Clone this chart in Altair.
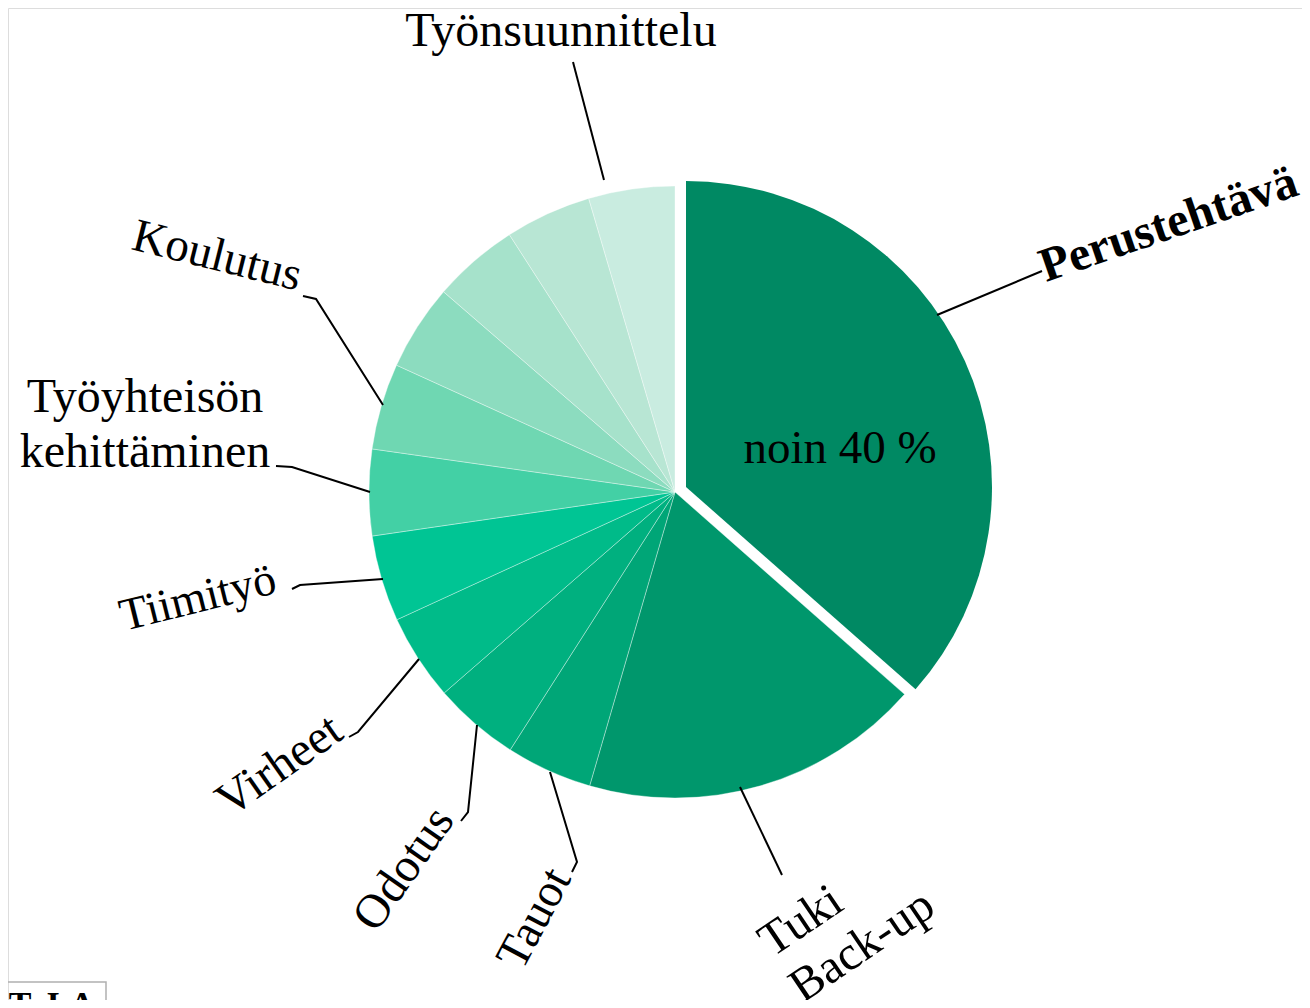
import altair as alt
import pandas as pd

# ---------------- data ----------------
categories = ["Perustehtävä", "Tuki", "Tauot", "Odotus", "Virheet", "Tiimityö",
              "Työyhteisön kehittäminen", "Koulutus", "muu 1", "muu 2", "muu 3",
              "Työnsuunnittelu"]
shares = [36.5, 18.0, 4.55, 4.55, 4.55, 4.55, 4.55, 4.55, 4.55, 4.55, 4.55, 4.55]
colors = ["#008963", "#00976c", "#00a677", "#00b07f", "#00bb89", "#00c594",
          "#43d0a5", "#6fd7b2", "#8cdcbf", "#a6e2cb", "#b8e6d4", "#c9ece0"]
center_note = "noin 40 %"

# ---------------- layout (page pixels of the reference) ----------------
OFF = 8
W, H = 1294, 992


def px(x):
    return x - OFF


CX, CY, R = px(675), px(492), 306
EXPLODE = (11, -5)

df = pd.DataFrame({"cat": categories, "share": shares, "idx": list(range(len(categories)))})

base = alt.Chart(df).encode(
    theta=alt.Theta("share:Q", stack=True),
    order=alt.Order("idx:Q", sort="ascending"),
    color=alt.Color("cat:N", scale=alt.Scale(domain=categories, range=colors), legend=None),
)

pie = base.mark_arc(radius=R, stroke="white", strokeWidth=0.8, strokeOpacity=0.45).encode(
    x=alt.value(CX), y=alt.value(CY),
    opacity=alt.condition(alt.datum.cat == categories[0], alt.value(0), alt.value(1)),
)
exploded = base.mark_arc(radius=R).encode(
    x=alt.value(CX + EXPLODE[0]), y=alt.value(CY + EXPLODE[1]),
    opacity=alt.condition(alt.datum.cat == categories[0], alt.value(1), alt.value(0)),
)

# leader lines (annotation layout)
leaders = {
    "Työnsuunnittelu": [(573, 62), (604, 180)],
    "Perustehtävä": [(937, 315), (1042, 271)],
    "Koulutus": [(303, 296), (316, 299), (383, 405)],
    "Työyhteisön kehittäminen": [(276, 466), (292, 467), (370, 492)],
    "Tiimityö": [(292, 589), (300, 585), (383, 579)],
    "Virheet": [(349, 737), (358, 732), (419, 659)],
    "Odotus": [(461, 821), (468, 812), (477, 725)],
    "Tauot": [(572, 872), (577, 862), (550, 772)],
    "Tuki": [(740, 787), (782, 875)],
}
rows = []
for g, pts in leaders.items():
    for i, (x, y) in enumerate(pts):
        rows.append({"g": g, "i": i, "x": px(x), "y": px(y)})
lines = alt.Chart(pd.DataFrame(rows)).mark_line(color="black", strokeWidth=2).encode(
    x=alt.X("x:Q", scale=None, axis=None),
    y=alt.Y("y:Q", scale=None, axis=None),
    detail="g:N",
    order="i:Q",
)

FONT = "Liberation Serif"
labels = [
    # text, x, y, angle, size, weight, align
    ("Työnsuunnittelu", 561, 46, 0, 48, "normal", "center"),
    ("Perustehtävä", 1046, 282, 341, 48, "bold", "left"),
    ("Koulutus", 130, 249, 14, 47, "normal", "left"),
    ("Työyhteisön\nkehittäminen", 145, 412, 0, 48, "normal", "center"),
    ("Tiimityö", 124, 631, 346, 46, "normal", "left"),
    ("Virheet", 230, 818, 325, 48, "normal", "left"),
    ("Odotus", 376, 934, 305, 48, "normal", "left"),
    ("Tauot", 522, 972, 298, 47, "normal", "left"),
    ("Tuki\nBack-up", 772, 958, 326, 48, "normal", "left"),
    (center_note, 840, 463, 0, 47, "normal", "center"),
]
text_layers = []
for t, x, y, ang, size, weight, align in labels:
    text_layers.append(
        alt.Chart(pd.DataFrame({"t": [t]})).mark_text(
            font=FONT, fontSize=size, fontWeight=weight, align=align,
            baseline="alphabetic", angle=ang, lineBreak="\n", lineHeight=55,
            color="black",
        ).encode(text="t:N", x=alt.value(px(x)), y=alt.value(px(y)))
    )

# cut-off logo box at bottom-left
box = alt.Chart(pd.DataFrame({"g": ["a", "a", "a"], "i": [0, 1, 2],
                              "x": [px(0), px(106), px(106)],
                              "y": [px(982), px(982), px(1010)]})).mark_line(
    color="#b0b0b0", strokeWidth=1.5).encode(
    x=alt.X("x:Q", scale=None, axis=None), y=alt.Y("y:Q", scale=None, axis=None),
    detail="g:N", order="i:Q")
logo_letters = alt.Chart(pd.DataFrame({"t": ["T", "I", "A"],
                                       "x": [px(20), px(53), px(82)],
                                       "y": [px(1015), px(1015), px(1015)]})).mark_text(
    font=FONT, fontSize=34, fontWeight="bold", align="center", baseline="alphabetic",
    color="black").encode(
    text="t:N", x=alt.X("x:Q", scale=None, axis=None), y=alt.Y("y:Q", scale=None, axis=None))

chart = alt.layer(pie, exploded, lines, box, logo_letters, *text_layers).properties(
    width=W, height=H, autosize=alt.AutoSizeParams(type="none"), padding=0,
).configure_view(stroke="transparent", strokeWidth=0).configure(background="white")

chart.save("out.html", embed_options={"renderer": "svg", "actions": False})
